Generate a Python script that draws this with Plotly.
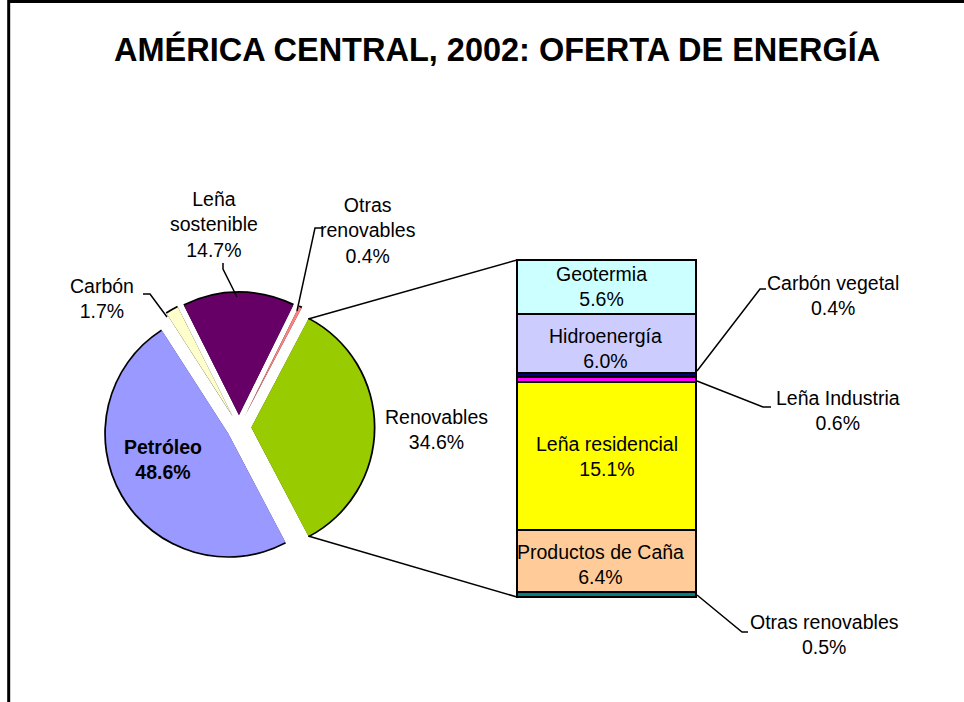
import math
import plotly.graph_objects as go

# ---------------- data ----------------
title_text = "AMÉRICA CENTRAL, 2002: OFERTA DE ENERGÍA"

pie_labels = ["Renovables", "Petróleo", "Carbón", "Leña sostenible", "Otras renovables"]
pie_values = [34.6, 48.6, 1.7, 14.7, 0.4]
pie_colors = ["#99CC00", "#9999FF", "#FFFFCC", "#660066", "#FF8080"]

bar_labels = ["Otras renovables", "Productos de Caña", "Leña residencial",
              "Leña Industria", "Carbón vegetal", "Hidroenergía", "Geotermia"]
bar_values = [0.5, 6.4, 15.1, 0.6, 0.4, 6.0, 5.6]
bar_colors = ["#008080", "#FFCC99", "#FFFF00", "#FF00FF", "#000080", "#CCCCFF", "#CCFFFF"]

# ---------------- geometry (pixels) ----------------
W, H = 964, 702
FONT = "Liberation Sans, Arial, sans-serif"
FS = 19.5


def fx(x):
    return x / W


def fy(y):
    return 1 - y / H


# pie
CX, CY = 239.0, 427.5
R = 122.5
PULL = 0.1
OUT_W = 1.6

# bar
BAR_L, BAR_R = 517.0, 696.0
BAR_T, BAR_B = 260.0, 597.0
total_bar = sum(bar_values)
ppu = (BAR_B - BAR_T) / total_bar
PAD = 1.0
XPAD = 0.6

rotation = 90 - 180 * pie_values[0] / sum(pie_values)

fig = go.Figure()


def pie_domain(r):
    s = r * (2 + 2 * PULL)
    return dict(x=[fx(CX - s / 2), fx(CX + s / 2)], y=[fy(CY + s / 2), fy(CY - s / 2)])


# black underlay pie -> arc outlines
fig.add_trace(go.Pie(
    labels=pie_labels, values=pie_values, sort=False, direction="clockwise",
    rotation=rotation, pull=[PULL] * len(pie_values),
    marker=dict(colors=["black"] * len(pie_values), line=dict(width=0)),
    textinfo="none", hoverinfo="skip", showlegend=False,
    domain=pie_domain(R + OUT_W)))

fig.add_trace(go.Pie(
    labels=pie_labels, values=pie_values, sort=False, direction="clockwise",
    rotation=rotation, pull=[PULL] * len(pie_values),
    marker=dict(colors=pie_colors, line=dict(width=0)),
    textinfo="none", hoverinfo="label+percent", showlegend=False,
    domain=pie_domain(R)))

# stacked bar
for lab, val, col in zip(bar_labels, bar_values, bar_colors):
    fig.add_trace(go.Bar(
        x=[0], y=[val], name=lab, width=1,
        marker=dict(color=col, line=dict(color="black", width=2)),
        hoverinfo="name+y", showlegend=False))

bw = BAR_R - BAR_L
bcx = (BAR_L + BAR_R) / 2
xdom = [fx(bcx - XPAD * bw), fx(bcx + XPAD * bw)]
ydom = [fy(BAR_B + PAD * ppu), fy(BAR_T - PAD * ppu)]

axis_off = dict(visible=False, showgrid=False, zeroline=False, showticklabels=False, fixedrange=True)

fig.update_layout(
    width=W, height=H,
    margin=dict(l=0, r=0, t=0, b=0),
    paper_bgcolor="white", plot_bgcolor="rgba(0,0,0,0)",
    barmode="stack", bargap=0,
    xaxis=dict(domain=xdom, range=[-XPAD, XPAD], **axis_off),
    yaxis=dict(domain=ydom, range=[-PAD, total_bar + PAD], **axis_off),
    showlegend=False,
    font=dict(family=FONT, color="black", size=FS),
)

shapes = []
annotations = []

# border
shapes.append(dict(type="rect", xref="paper", yref="paper",
                   x0=fx(8.7), y0=fy(1.5), x1=fx(W + 20), y1=fy(H + 20),
                   line=dict(color="black", width=3), fillcolor="rgba(0,0,0,0)"))


def path(points):
    s = "M " + " L ".join(f"{fx(x):.5f},{fy(y):.5f}" for x, y in points)
    return dict(type="path", xref="paper", yref="paper", path=s,
                line=dict(color="black", width=1.5))


# connector lines from renovables slice corners to bar corners
d = PULL * R
ren_cx = CX + d  # renovables bisector points east
a0 = math.radians(rotation)
a1 = math.radians(rotation + 360 * pie_values[0] / sum(pie_values))
top_corner = (ren_cx + R * math.sin(a0), CY - R * math.cos(a0))
bot_corner = (ren_cx + R * math.sin(a1), CY - R * math.cos(a1))
shapes.append(path([top_corner, (BAR_L, BAR_T)]))
shapes.append(path([bot_corner, (BAR_L, BAR_B)]))

# leader lines
shapes.append(path([(223, 263), (223, 269), (237, 297)]))   # Leña sostenible
shapes.append(path([(323, 228), (315, 228), (297, 311)]))   # Otras renovables (pie)
shapes.append(path([(143, 294), (150, 294), (167, 317)]))   # Carbón
shapes.append(path([(697, 371), (760, 289), (766, 289)]))   # Carbón vegetal
shapes.append(path([(697, 381), (763, 407), (771, 407)]))   # Leña Industria
shapes.append(path([(697, 595), (742, 632), (748, 632)]))   # Otras renovables (bar)


def ann(text, x, y, bold=False, size=FS):
    if bold:
        text = f"<b>{text}</b>"
    annotations.append(dict(text=text, x=fx(x), y=fy(y), xref="paper", yref="paper",
                            showarrow=False, xanchor="center", yanchor="middle",
                            font=dict(family=FONT, size=size, color="black")))


pv = dict(zip(pie_labels, pie_values))
bv = dict(zip(bar_labels, bar_values))

# title
ann(title_text, 497, 49, bold=True, size=32.5)

# pie labels
ann("Leña<br>sostenible<br>" + f"{pv['Leña sostenible']:.1f}%", 214, 224)
ann("Otras<br>renovables<br>" + f"{pv['Otras renovables']:.1f}%", 368, 231)
ann("Carbón<br>" + f"{pv['Carbón']:.1f}%", 102, 298)
ann("Petróleo<br>" + f"{pv['Petróleo']:.1f}%", 163, 459, bold=True)
ann("Renovables<br>" + f"{pv['Renovables']:.1f}%", 436, 429)

# bar labels (inside)
ann("Geotermia<br>" + f"{bv['Geotermia']:.1f}%", 601, 287)
ann("Hidroenergía<br>" + f"{bv['Hidroenergía']:.1f}%", 605, 348)
ann("Leña residencial<br>" + f"{bv['Leña residencial']:.1f}%", 607, 457)
ann("Productos de Caña<br>" + f"{bv['Productos de Caña']:.1f}%", 600, 564)

# bar labels (outside)
ann("Carbón vegetal<br>" + f"{bv['Carbón vegetal']:.1f}%", 833, 295)
ann("Leña Industria<br>" + f"{bv['Leña Industria']:.1f}%", 838, 410)
ann("Otras renovables<br>" + f"{bv['Otras renovables']:.1f}%", 824, 634)

fig.update_layout(shapes=shapes, annotations=annotations)

fig.write_html("out.html", config={"displayModeBar": False},
               post_script="document.body.style.margin='0';")
